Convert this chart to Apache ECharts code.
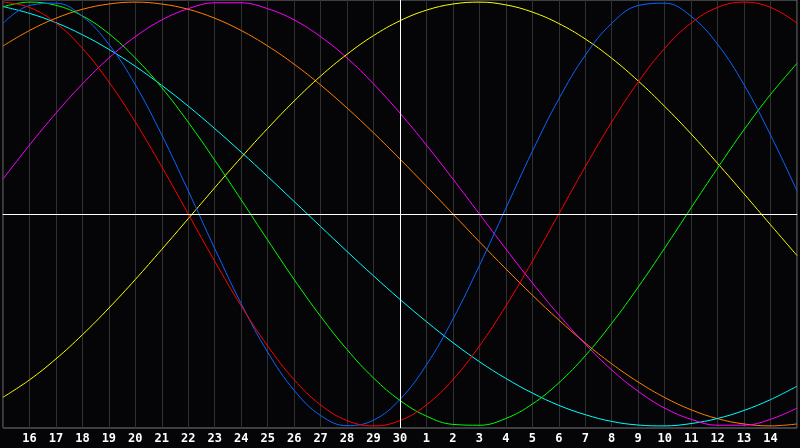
<!DOCTYPE html>
<html>
<head>
<meta charset="utf-8">
<script src="https://cdn.jsdelivr.net/npm/echarts@6/dist/echarts.min.js"></script>
<style>
html,body{margin:0;padding:0;background:#050508;}
#c{width:800px;height:448px;}
</style>
</head>
<body>
<div id="c"></div>
<script>
const days = ['15','16','17','18','19','20','21','22','23','24','25','26','27','28','29','30',
  '1','2','3','4','5','6','7','8','9','10','11','12','13','14','15'];

const red = [1,0.975,0.901,0.782,0.623,0.434,0.223,0,-0.223,-0.434,-0.623,-0.782,-0.901,-0.975,-1,
  -0.975,-0.901,-0.782,-0.623,-0.434,-0.223,0,0.223,0.434,0.623,0.782,0.901,0.975,1,0.975,0.901];
const blue = [0.900,0.984,0.995,0.933,0.801,0.610,0.373,0.109,-0.163,-0.423,-0.652,-0.832,-0.951,-0.999,
  -0.973,-0.875,-0.712,-0.496,-0.243,0.027,0.296,0.543,0.749,0.900,0.984,0.995,0.933,0.801,0.610,0.373,0.109];
const green = [0.978,1.000,0.985,0.935,0.851,0.736,0.596,0.433,0.254,0.067,-0.123,-0.309,-0.483,-0.640,
  -0.774,-0.880,-0.954,-0.993,-0.997,-0.965,-0.897,-0.797,-0.669,-0.516,-0.345,-0.161,0.029,0.217,0.398,0.564,0.711];
const yellow = [-0.865,-0.783,-0.684,-0.570,-0.444,-0.309,-0.167,-0.022,0.124,0.267,0.404,0.533,0.651,0.754,
  0.842,0.912,0.962,0.991,1.000,0.987,0.953,0.899,0.826,0.735,0.628,0.508,0.378,0.239,0.095,-0.051,-0.196];
const magenta = [0.165,0.325,0.476,0.614,0.736,0.837,0.916,0.969,0.997,0.997,0.969,0.916,0.837,0.736,
  0.614,0.476,0.325,0.165,0,-0.165,-0.325,-0.476,-0.614,-0.736,-0.837,-0.916,-0.969,-0.997,-0.997,-0.969,-0.916];
const orange = [0.793,0.866,0.924,0.966,0.991,1,0.991,0.966,0.924,0.866,0.793,0.707,0.609,0.500,0.383,
  0.259,0.131,0,-0.131,-0.259,-0.383,-0.500,-0.609,-0.707,-0.793,-0.866,-0.924,-0.966,-0.991,-1,-0.991];
const cyan = [0.979,0.947,0.903,0.846,0.777,0.697,0.607,0.509,0.403,0.292,0.177,0.059,-0.059,-0.177,
  -0.292,-0.403,-0.508,-0.607,-0.697,-0.776,-0.845,-0.903,-0.947,-0.979,-0.996,-1.000,-0.989,-0.965,-0.927,-0.876,-0.813];

const seriesDefs = [
  {name:'orange', data:orange, color:'#ff8000'},
  {name:'cyan', data:cyan, color:'#00ffff'},
  {name:'magenta', data:magenta, color:'#ff00ff'},
  {name:'yellow', data:yellow, color:'#ffff00'},
  {name:'green', data:green, color:'#00ff00'},
  {name:'blue', data:blue, color:'#0a64ff'},
  {name:'red', data:red, color:'#ff0000'}
];

const chart = echarts.init(document.getElementById('c'), null, {renderer:'canvas'});
const series = seriesDefs.map(s => ({
  name: s.name, type:'line', data:s.data, smooth:0.4, showSymbol:false, symbol:'none',
  lineStyle:{color:s.color, width:1}, itemStyle:{color:s.color}, silent:true, z:3
}));
series.push({
  type:'line', data:[], silent:true, z:2,
  markLine:{
    silent:true, symbol:['none','none'], label:{show:false},
    lineStyle:{color:'#ffffff', width:1, type:'solid'},
    data:[{xAxis:15},{yAxis:0}]
  }
});

chart.setOption({
  backgroundColor:'#050508',
  animation:false,
  grid:{left:0, right:0, top:0, bottom:20, show:true, borderColor:'#7a7a7a', borderWidth:1, backgroundColor:'transparent'},
  xAxis:{
    type:'category', data:days, boundaryGap:false,
    axisLine:{show:true, lineStyle:{color:'#c8c8c8', width:1}},
    axisTick:{show:false},
    splitLine:{show:true, interval:0, lineStyle:{color:'#303030', width:1}},
    axisLabel:{
      interval:0, color:'#ffffff', fontFamily:'DejaVu Sans Mono', fontWeight:'bold', fontSize:12, margin:5,
      formatter:function(v, i){ return (i===0 || i===days.length-1) ? '' : v; }
    }
  },
  yAxis:{
    type:'value', min:-1.01, max:1.01, show:false, splitLine:{show:false}
  },
  series:series
});
</script>
</body>
</html>
